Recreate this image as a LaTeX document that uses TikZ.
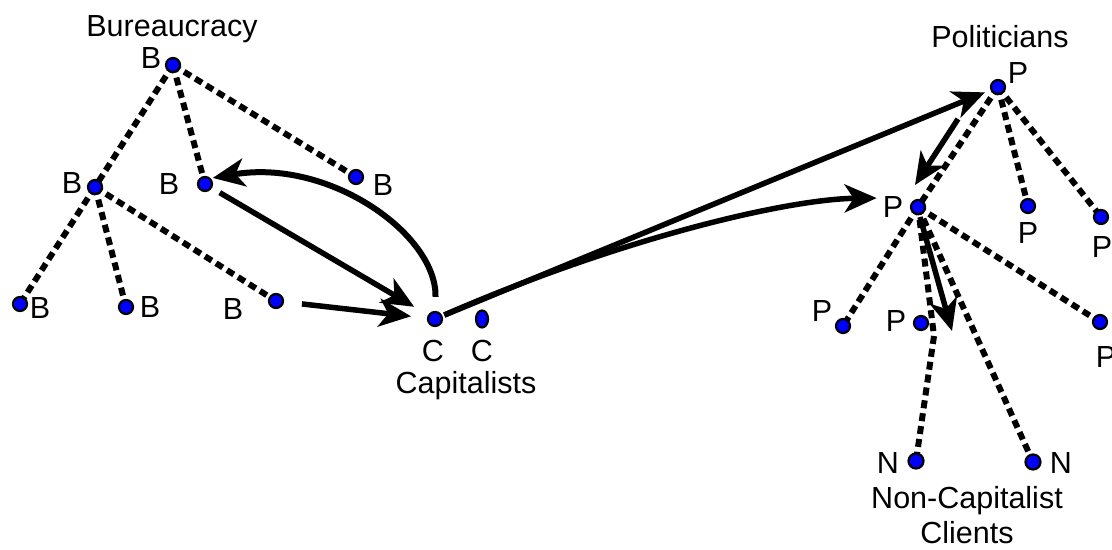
\documentclass[tikz,border=0pt]{standalone}
\usepackage{fontspec}
\setmainfont{Liberation Sans}
\usetikzlibrary{arrows.meta,backgrounds,shapes.geometric}
\begin{document}
\begin{tikzpicture}[x=1bp,y=-1bp,
  dot/.style={circle,fill=blue,draw=black,line width=2.2bp,minimum size=14bp,inner sep=0pt},
  lbl/.style={inner sep=0pt,font=\fontsize{30.5bp}{32bp}\selectfont},
  tie/.style={line width=6bp,dash pattern=on 8bp off 5bp},
  arr/.style={line width=5.5bp,-{Stealth[length=32bp,width=28bp,inset=9bp]}}]
\useasboundingbox (0,0) rectangle (1112,550);
% Bureaucracy
\node[dot] (B0) at (173,65) {};
\node[dot] (B1) at (95,187) {};
\node[dot] (B2) at (205,184) {};
\node[dot] (B3) at (356,177) {};
\node[dot] (B4) at (20,304) {};
\node[dot] (B5) at (126,307) {};
\node[dot] (B6) at (276,301) {};
\node[lbl] (tB) at (172,29) {Bureaucracy};
\node[lbl] (lB0) at (151,58) {B};
\node[lbl] (lB1) at (72,183) {B};
\node[lbl] (lB2) at (169,184) {B};
\node[lbl] (lB3) at (383,185) {B};
\node[lbl] (lB4) at (40,308) {B};
\node[lbl] (lB5) at (150,307) {B};
\node[lbl] (lB6) at (233,309) {B};
% Capitalists
\node[dot] (C1) at (435,319) {};
\node[dot,ellipse,minimum width=12bp,minimum height=17bp] (C2) at (482,319) {};
\node[lbl] (lC1) at (433,351) {C};
\node[lbl] (lC2) at (482,351) {C};
\node[lbl] (tC) at (466,386) {Capitalists};
% Politicians
\node[dot] (P0) at (998,87) {};
\node[dot] (P1) at (918,207) {};
\node[dot] (P2) at (1028,206) {};
\node[dot] (P3) at (1101,217) {};
\node[dot] (P4) at (843,326) {};
\node[dot] (P5) at (921,323) {};
\node[dot] (P6) at (1100,322) {};
\node[dot,minimum size=15bp] (N1) at (916,461) {};
\node[dot,minimum size=15bp] (N2) at (1033,462) {};
\node[lbl] (tP) at (1000,37) {Politicians};
\node[lbl] (lP0) at (1018,73) {P};
\node[lbl] (lP1) at (893,207) {P};
\node[lbl] (lP2) at (1028,233) {P};
\node[lbl] (lP3) at (1102,247) {P};
\node[lbl] (lP4) at (822,311) {P};
\node[lbl] (lP5) at (896,321) {P};
\node[lbl] (lP6) at (1106,357) {P};
\node[lbl] (lN1) at (888,463) {N};
\node[lbl] (lN2) at (1061,463) {N};
\node[lbl,anchor=base] (tN1) at (967,508) {Non-Capitalist};
\node[lbl,anchor=base] (tN2) at (967,543) {Clients};
\coordinate (bendN) at (934,336);
\begin{scope}[on background layer]
\draw[tie] (B0.center) -- (B1.center);
\draw[tie] (B0.center) -- (B2.center);
\draw[tie] (B0.center) -- (B3.center);
\draw[tie] (B1.center) -- (B4.center);
\draw[tie] (B1.center) -- (B5.center);
\draw[tie] (B1.center) -- (B6.center);
\draw[tie] (P0.center) -- (P1.center);
\draw[tie] (P0.center) -- (P2.center);
\draw[tie] (P0.center) -- (P3.center);
\draw[tie] (P1.center) -- (P4.center);
\draw[tie] (P1.center) -- (P6.center);
\draw[tie] (P1.center) -- (bendN) -- (N1.center);
\draw[tie] (P1.center) -- (N2.center);
\end{scope}
% arrows
\draw[arr,shorten <=9bp,shorten >=16bp] (B2) -- (C1);
\draw[arr,shorten <=18bp,shorten >=16bp] (B6) -- (C1);
\draw[arr,line width=6bp,shorten <=14bp,shorten >=2bp] (C1) .. controls (437,235) and (330,158) .. (B2.north east);
\draw[arr,shorten <=2bp,shorten >=6bp] (C1) -- (P0);
\draw[arr,shorten <=2bp,shorten >=6bp] (C1) .. controls (626,236) and (790,199) .. ([yshift=9bp]lP1.west);
\draw[arr] ([xshift=-40bp,yshift=-32bp]P0.center) -- ([xshift=-3bp,yshift=22bp]P1.center);
\draw[arr] ([xshift=2bp,yshift=-10bp]P1.center) -- ([xshift=31bp,yshift=-8bp]P5.center);
\end{tikzpicture}
\end{document}
